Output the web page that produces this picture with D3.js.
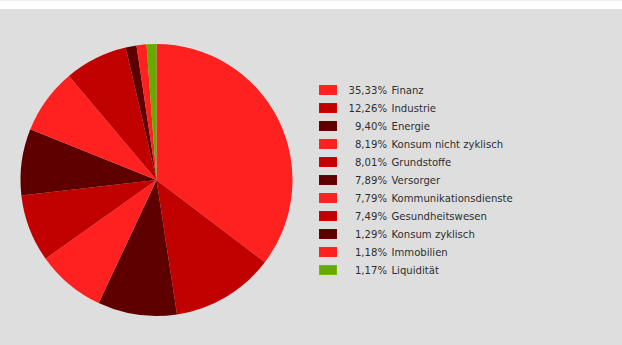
<!DOCTYPE html>
<html>
<head>
<meta charset="utf-8">
<script src="https://cdn.jsdelivr.net/npm/d3@7"></script>
<style>
  html, body { margin: 0; padding: 0; background: #ffffff; }
  svg { display: block; }
</style>
</head>
<body>
<svg id="chart" width="622" height="345"></svg>
<script>
// Sector weights (percent)
const sectors = ["Finanz", "Industrie", "Energie", "Konsum nicht zyklisch", "Grundstoffe",
  "Versorger", "Kommunikationsdienste", "Gesundheitswesen", "Konsum zyklisch", "Immobilien", "Liquidität"];
const weights = [35.33, 12.26, 9.40, 8.19, 8.01, 7.89, 7.79, 7.49, 1.29, 1.18, 1.17];
const palette = ["#ff2020", "#c10000", "#5f0000", "#ff2020", "#c10000", "#5f0000",
  "#ff2020", "#c10000", "#5f0000", "#ff2020", "#66aa00"];

const svg = d3.select("#chart");
const W = 622, H = 345;

// page frame: thin top rule, white strip, grey panel
svg.append("rect").attr("x", 0).attr("y", 0).attr("width", W).attr("height", H).attr("fill", "#ffffff");
svg.append("rect").attr("x", 0).attr("y", 0).attr("width", W).attr("height", 1).attr("fill", "#efefef");
svg.append("rect").attr("x", 0).attr("y", 9).attr("width", W).attr("height", H - 9).attr("fill", "#dedede");

const data = sectors.map((s, i) => ({ name: s, value: weights[i], color: palette[i] }));

const pie = d3.pie().value(d => d.value).sort(null);
const arc = d3.arc().innerRadius(0).outerRadius(136);

const g = svg.append("g").attr("transform", "translate(156.5,180)");
g.selectAll("path")
  .data(pie(data))
  .join("path")
  .attr("d", arc)
  .attr("fill", d => d.data.color);

// legend
const fmt = v => v.toFixed(2).replace(".", ",") + "%";
const y = d3.scaleBand().domain(sectors).range([81, 81 + 18 * sectors.length]);

const legend = svg.append("g");
const rows = legend.selectAll("g")
  .data(data)
  .join("g")
  .attr("transform", d => `translate(0,${y(d.name)})`);

rows.append("rect")
  .attr("x", 319.5).attr("y", 4.5)
  .attr("width", 17).attr("height", 9)
  .attr("fill", d => d.color)
  .attr("stroke", d => d3.color(d.color).brighter(0.3))
  .attr("stroke-width", 1);

rows.append("text")
  .attr("x", 387).attr("y", 13)
  .attr("text-anchor", "end")
  .attr("font-family", "DejaVu Sans, Verdana, sans-serif")
  .attr("font-size", 10.1)
  .attr("fill", "#2e2e2e")
  .text(d => fmt(d.value));

rows.append("text")
  .attr("x", 391.5).attr("y", 13)
  .attr("font-family", "DejaVu Sans, Verdana, sans-serif")
  .attr("font-size", 10.1)
  .attr("fill", "#2e2e2e")
  .text(d => d.name);
</script>
</body>
</html>
